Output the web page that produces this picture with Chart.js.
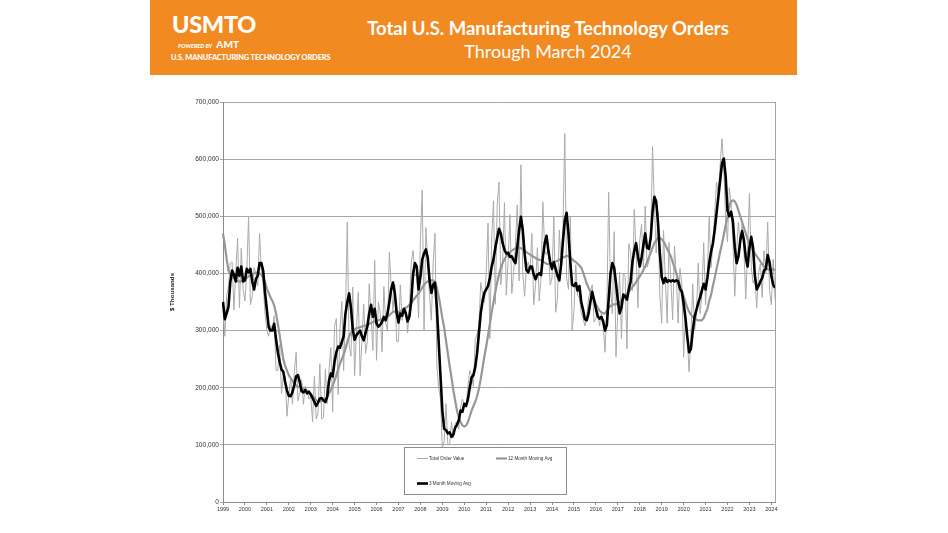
<!DOCTYPE html>
<html>
<head>
<meta charset="utf-8">
<script src="https://cdn.jsdelivr.net/npm/chart.js@4.4.1/dist/chart.umd.min.js"></script>
<style>
html,body{margin:0;padding:0;background:#fff;width:948px;height:533px;overflow:hidden;}
#chart{position:absolute;left:0;top:0;}
#banner{position:absolute;left:150px;top:0;width:647px;height:75px;background:#F28A22;color:#fff;font-family:Lato,"Open Sans",sans-serif;}
#banner div{position:absolute;white-space:nowrap;}
#logo{left:22px;top:9px;font-size:23.5px;font-weight:900;letter-spacing:-0.3px;line-height:30px;}
#powered{left:28px;top:39px;font-size:5.6px;font-weight:900;font-style:italic;line-height:10px;}
#powered b{font-size:10px;font-style:normal;margin-left:3px;letter-spacing:0.2px;}
#logosub{left:21px;top:53px;font-size:7.4px;font-weight:900;line-height:10px;letter-spacing:-0.1px;}
#t1{left:150px;width:496px;top:17px;text-align:center;font-size:18.5px;font-weight:700;line-height:22px;}
#t2{left:150px;width:496px;top:40px;text-align:center;font-size:18px;font-weight:400;line-height:22px;}
</style>
</head>
<body>
<canvas id="chart" width="948" height="533"></canvas>
<div id="banner">
  <div id="logo">USMTO</div>
  <div id="powered">POWERED BY <b>AMT</b></div>
  <div id="logosub">U.S. MANUFACTURING TECHNOLOGY ORDERS</div>
  <div id="t1">Total U.S. Manufacturing Technology Orders</div>
  <div id="t2">Through March 2024</div>
</div>
<script>
// Year tick labels (January of each year)
const years = ['1999','2000','2001','2002','2003','2004','2005','2006','2007','2008','2009','2010','2011','2012','2013','2014','2015','2016','2017','2018','2019','2020','2021','2022','2023','2024'];

// Monthly total order value, $ thousands (Jan 1999 - Mar 2024)
const totalOrderValue = [
345000,290000,360000,378000,418000,420000,336000,402000,462000,340000,444000,372000,
352000,400000,500000,345000,360000,410000,400000,378000,470000,405000,380000,330000,
300000,290000,310000,300000,326000,230000,230000,275000,190000,220000,220000,150000,
188000,217000,171000,227000,262000,177000,191000,214000,171000,203000,196000,180000,
185000,140000,220000,145000,156000,242000,145000,148000,232000,172000,232000,270000,
158000,307000,321000,188000,301000,351000,230000,330000,490000,275000,255000,376000,
221000,300000,367000,221000,282000,346000,260000,282000,382000,326000,265000,423000,
248000,350000,332000,263000,377000,314000,299000,437000,380000,335000,380000,281000,
281000,380000,318000,335000,340000,296000,340000,420000,440000,395000,400000,322000,
460000,546000,300000,480000,420000,360000,318000,420000,470000,240000,200000,180000,
95000,105000,172000,100000,100000,140000,112000,138000,140000,128000,166000,180000,
170000,168000,202000,230000,222000,202000,284000,294000,307000,384000,365000,349000,
402000,488000,286000,462000,527000,346000,520000,560000,380000,419000,524000,362000,
422000,503000,365000,401000,450000,520000,387000,590000,400000,360000,410000,420000,
405000,470000,345000,380000,445000,352000,392000,525000,440000,432000,448000,380000,
392000,500000,332000,356000,476000,416000,482000,645000,392000,372000,500000,300000,
334000,415000,362000,358000,330000,322000,308000,325000,357000,368000,380000,315000,
320000,335000,308000,330000,310000,262000,338000,542000,380000,330000,473000,254000,
332000,402000,286000,400000,395000,268000,452000,438000,370000,512000,438000,340000,
458000,486000,406000,518000,411000,420000,460000,622000,520000,436000,508000,361000,
313000,475000,388000,313000,454000,391000,319000,448000,397000,313000,409000,382000,
253000,331000,286000,228000,290000,382000,300000,326000,418000,330000,362000,454000,
345000,400000,500000,410000,450000,505000,560000,540000,590000,636000,580000,495000,
455000,550000,520000,455000,360000,440000,490000,445000,487000,442000,355000,440000,
540000,412000,383000,393000,340000,401000,417000,358000,440000,400000,490000,370000,
345000,425000,355000
];

// 12 month moving average, $ thousands
const twelveMonthAvg = [
470000,450000,425000,405000,398000,395000,392000,388000,386000,386000,386000,387000,
390000,392000,395000,397000,398000,400000,401000,402000,400000,398000,392000,385000,
374000,366000,358000,352000,344000,330000,312000,292000,270000,250000,238000,230000,
222000,217000,212000,207000,204000,202000,201000,200000,198000,196000,194000,192000,
189000,186000,182000,178000,176000,176000,177000,178000,180000,184000,190000,196000,
203000,212000,222000,232000,242000,250000,258000,268000,280000,290000,296000,300000,
302000,304000,305000,306000,307000,308000,309000,310000,312000,313000,315000,316000,
318000,318000,319000,320000,321000,322000,324000,327000,330000,333000,333000,332000,
332000,334000,336000,338000,340000,342000,345000,348000,353000,357000,361000,365000,
370000,375000,380000,384000,386000,388000,388000,388000,384000,375000,360000,342000,
322000,305000,282000,260000,238000,218000,196000,178000,160000,148000,140000,134000,
132000,134000,140000,150000,160000,168000,175000,185000,198000,215000,235000,255000,
272000,292000,312000,332000,350000,368000,384000,398000,410000,418000,425000,430000,
434000,437000,440000,442000,444000,445000,445000,444000,442000,440000,437000,435000,
433000,431000,429000,427000,425000,424000,423000,421000,419000,417000,416000,417000,
418000,420000,421000,422000,424000,426000,428000,429000,431000,430000,428000,425000,
422000,420000,417000,414000,410000,402000,392000,382000,375000,368000,360000,353000,
346000,340000,335000,332000,330000,330000,335000,340000,343000,345000,346000,346000,
348000,350000,353000,356000,360000,364000,368000,372000,376000,380000,385000,390000,
395000,400000,406000,412000,420000,428000,436000,445000,453000,458000,462000,462000,
460000,456000,450000,443000,436000,430000,420000,410000,400000,390000,380000,370000,
360000,350000,340000,333000,328000,324000,321000,319000,318000,318000,318000,322000,
330000,338000,352000,362000,378000,392000,408000,422000,438000,452000,468000,484000,
500000,516000,526000,528000,526000,520000,510000,500000,490000,480000,470000,460000,
452000,446000,440000,435000,430000,426000,421000,416000,412000,410000,407000,406000,
406000,408000,405000
];

// 3 month moving average, $ thousands
const threeMonthAvg = [
350000,320000,330000,342000,385000,405000,398000,386000,410000,396000,412000,386000,
388000,408000,402000,408000,386000,372000,390000,396000,418000,418000,404000,366000,
336000,306000,300000,300000,312000,285000,262000,245000,232000,228000,210000,195000,
186000,185000,192000,205000,220000,222000,210000,194000,192000,196000,190000,193000,
188000,182000,175000,168000,174000,181000,182000,178000,175000,184000,212000,225000,
220000,245000,262000,272000,270000,280000,290000,330000,350000,365000,340000,302000,
284000,292000,296000,300000,290000,283000,296000,308000,330000,345000,324000,338000,
312000,307000,310000,315000,324000,318000,330000,350000,372000,384000,365000,332000,
314000,330000,326000,338000,330000,316000,325000,352000,400000,418000,412000,372000,
394000,424000,435000,442000,428000,388000,366000,380000,384000,340000,280000,220000,
160000,128000,126000,120000,122000,114000,118000,130000,135000,143000,160000,158000,
172000,168000,180000,200000,218000,222000,236000,260000,295000,330000,352000,366000,
372000,378000,392000,412000,425000,445000,462000,478000,470000,453000,441000,435000,
436000,429000,430000,423000,418000,447000,476000,499000,476000,435000,406000,402000,
412000,412000,398000,390000,398000,400000,397000,428000,453000,466000,440000,420000,
408000,420000,408000,396000,388000,416000,458000,493000,506000,470000,420000,380000,
378000,383000,370000,378000,350000,336000,320000,318000,330000,350000,368000,354000,
338000,325000,321000,324000,316000,300000,310000,355000,400000,418000,410000,383000,
353000,330000,340000,363000,360000,354000,372000,386000,420000,440000,453000,430000,
412000,428000,450000,470000,445000,443000,462000,508000,534000,526000,488000,435000,
394000,383000,392000,385000,388000,386000,388000,386000,388000,386000,373000,368000,
348000,322000,290000,262000,268000,300000,324000,336000,348000,358000,370000,382000,
372000,392000,418000,438000,452000,476000,505000,534000,563000,593000,601000,570000,
510000,500000,508000,490000,445000,418000,430000,458000,474000,458000,428000,412000,
445000,464000,445000,396000,372000,378000,386000,392000,405000,408000,432000,420000,
396000,380000,375000
];

const seriesNames = ['Total Order Value', '12 Month Moving Avg', '3 Month Moving Avg'];
const yAxisTitle = '$ Thousands';

const labels = totalOrderValue.map((_, i) => (i % 12 === 0 ? years[i / 12] : ''));

const FONT = '"Liberation Sans", Arial, sans-serif';

const decor = {
  id: 'decor',
  afterDatasetsDraw(chart) {
    const {ctx, chartArea: a} = chart;
    ctx.save();
    // plot right border
    ctx.strokeStyle = '#a6a6a6';
    ctx.lineWidth = 1;
    const rx = Math.round(a.right) + 0.5;
    ctx.beginPath(); ctx.moveTo(rx, a.top); ctx.lineTo(rx, a.bottom); ctx.stroke();

    // legend box
    const lx = 404.5, ly = 447.5, lw = 162, lh = 47;
    ctx.fillStyle = '#ffffff';
    ctx.fillRect(lx, ly, lw, lh);
    ctx.strokeStyle = '#8c8c8c';
    ctx.strokeRect(lx, ly, lw, lh);
    const items = [
      {ds: 0, x: 417, y: 458.5},
      {ds: 1, x: 496, y: 458.5},
      {ds: 2, x: 417, y: 483.5}
    ];
    ctx.font = '4.6px ' + FONT;
    ctx.textBaseline = 'middle';
    ctx.textAlign = 'left';
    items.forEach(it => {
      const d = chart.data.datasets[it.ds];
      ctx.strokeStyle = d.borderColor;
      ctx.lineWidth = d.borderWidth;
      ctx.beginPath(); ctx.moveTo(it.x, it.y); ctx.lineTo(it.x + 11, it.y); ctx.stroke();
      ctx.fillStyle = '#333';
      ctx.fillText(d.label, it.x + 12, it.y);
    });

    // y axis title
    ctx.translate(172, 292);
    ctx.rotate(-Math.PI / 2);
    ctx.font = 'bold 6.2px ' + FONT;
    ctx.fillStyle = '#222';
    ctx.textAlign = 'center';
    ctx.textBaseline = 'middle';
    ctx.fillText(yAxisTitle, 0, 0);
    ctx.restore();
  }
};

new Chart(document.getElementById('chart'), {
  type: 'line',
  data: {
    labels: labels,
    datasets: [
      {label: seriesNames[0], data: totalOrderValue, borderColor: '#ababab', borderWidth: 1, pointRadius: 0, tension: 0, order: 3},
      {label: seriesNames[1], data: twelveMonthAvg, borderColor: '#979797', borderWidth: 2.2, pointRadius: 0, tension: 0, borderJoinStyle: 'round', order: 2},
      {label: seriesNames[2], data: threeMonthAvg, borderColor: '#000000', borderWidth: 2.6, pointRadius: 0, tension: 0, borderJoinStyle: 'round', order: 1}
    ]
  },
  options: {
    responsive: false,
    animation: false,
    devicePixelRatio: 1,
    layout: {padding: {left: 150, top: 102, right: 173, bottom: 19}},
    plugins: {legend: {display: false}, tooltip: {enabled: false}, title: {display: false}},
    scales: {
      x: {
        type: 'category',
        offset: false,
        afterFit: s => { s.height = 12; },
        grid: {
          drawOnChartArea: false,
          drawTicks: true,
          tickLength: 3,
          color: c => (c.index % 12 === 0 ? '#8c8c8c' : 'rgba(0,0,0,0)')
        },
        border: {color: '#8c8c8c', width: 1},
        ticks: {autoSkip: false, maxRotation: 0, minRotation: 0, padding: 1, color: '#333', font: {family: FONT, size: 5.5}}
      },
      y: {
        min: 0,
        max: 700000,
        afterFit: s => { s.width = 73; },
        grid: {color: '#a6a6a6', lineWidth: 1, tickLength: 3, drawTicks: true},
        border: {color: '#8c8c8c', width: 1},
        ticks: {
          stepSize: 100000,
          padding: 1,
          color: '#333',
          font: {family: FONT, size: 6.6},
          callback: v => v.toLocaleString('en-US')
        }
      }
    }
  },
  plugins: [decor]
});
</script>
</body>
</html>
